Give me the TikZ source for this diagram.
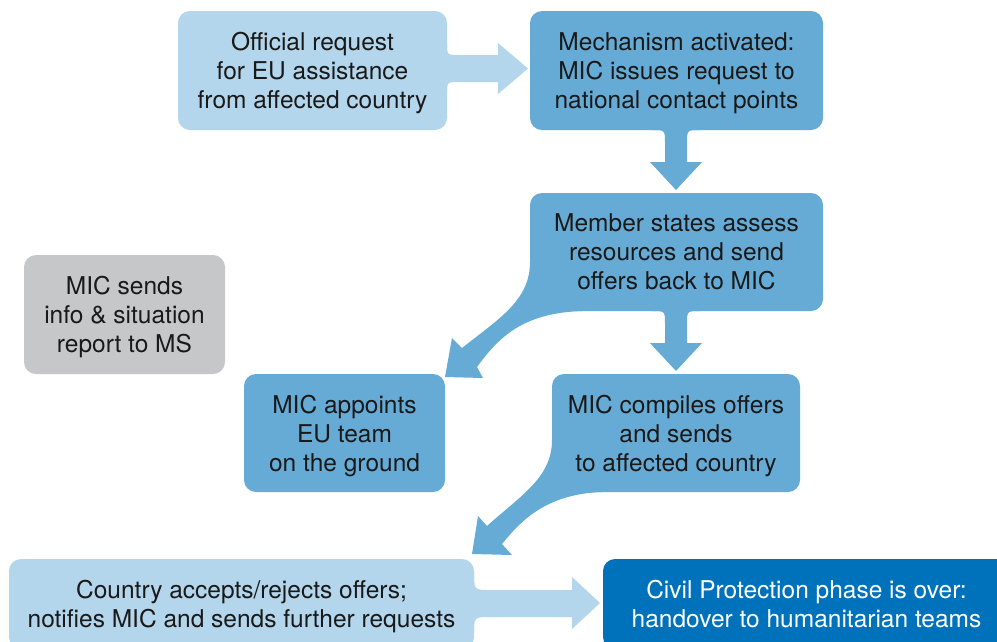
\documentclass[tikz,border=0pt]{standalone}
\usepackage{fontspec}
\setmainfont{TeX Gyre Heros}
\definecolor{lightb}{HTML}{B3D6EC}
\definecolor{midb}{HTML}{66ABD6}
\definecolor{darkb}{HTML}{0072BB}
\definecolor{greyb}{HTML}{C6C7C9}
\tikzset{
  box/.style={rounded corners=12pt, inner sep=0pt, align=center, text depth=-1pt,
    font=\fontsize{24.5pt}{29pt}\selectfont, text=black!90},
}
\begin{document}
\begin{tikzpicture}[x=1pt,y=-1pt]
\clip (0,0) rectangle (997,641);
\fill[white] (0,0) rectangle (997,641);
% arrows (drawn first, boxes on top)
% b1 -> b2
\fill[lightb] (440,43) -- (447,43) .. controls (447,55) .. (459,55) -- (498,55) -- (498,43)
  -- (528,68.5) -- (498,94) -- (498,82) -- (459,82) .. controls (447,82) .. (447,94) -- (440,94) -- cycle;
% b2 -> b3
\fill[midb] (652,125) -- (652,130) .. controls (665,130) .. (665,143) -- (665,162) -- (650,162)
  -- (676,190) -- (702,162) -- (687,162) -- (687,143) .. controls (687,130) .. (700,130) -- (700,125) -- cycle;
% b3 -> b6
\fill[midb] (652,306) -- (652,311) .. controls (665,311) .. (665,324) -- (665,343) -- (650,343)
  -- (676,371) -- (702,343) -- (687,343) -- (687,324) .. controls (687,311) .. (700,311) -- (700,306) -- cycle;
% b3 -> b5
\fill[midb] (540,250) -- (530,250) -- (530,262) .. controls (530,300) and (500,318) .. (462,348)
  -- (452,338) -- (445,377) -- (483,378) -- (477,367)
  .. controls (497,340) and (520,313) .. (582,311) -- (582,300) -- cycle;
% b6 -> b7
\fill[midb] (562,430) -- (552,430) -- (552,440) .. controls (552,478) and (520,496) .. (487,526)
  -- (478,516) -- (472,554) -- (512,555) -- (502,544)
  .. controls (520,522) and (545,494) .. (602,492) -- (602,482) -- cycle;
% b7 -> b8
\fill[lightb] (465,572) -- (474,572) .. controls (474,590) .. (490,590) -- (572,590) -- (572,577)
  -- (600,603) -- (572,629) -- (572,617) -- (490,617) .. controls (474,617) .. (474,634) -- (465,634) -- cycle;
% boxes
\node[box, fill=lightb, minimum width=269pt, minimum height=119pt] (b1) at (312.5,70.5)
  {Official request\\for EU assistance\\from affected country};
\node[box, fill=midb, minimum width=293pt, minimum height=119pt] (b2) at (676.5,70.5)
  {Mechanism activated:\\MIC issues request to\\national contact points};
\node[box, fill=midb, minimum width=293pt, minimum height=118pt] (b3) at (676.5,252)
  {Member states assess\\resources and send\\offers back to MIC};
\node[box, fill=greyb, minimum width=201pt, minimum height=119pt] (b4) at (124.5,314.5)
  {MIC sends\\info \& situation\\report to MS};
\node[box, fill=midb, minimum width=201pt, minimum height=118pt] (b5) at (344.5,433)
  {MIC appoints\\EU team\\on the ground};
\node[box, fill=midb, minimum width=248pt, minimum height=118pt] (b6) at (676,433)
  {MIC compiles offers\\and sends\\to affected country};
\node[box, fill=lightb, minimum width=465pt, minimum height=90pt] (b7) at (241.5,604)
  {Country accepts/rejects offers;\\notifies MIC and sends further requests};
\node[box, fill=darkb, text=white, minimum width=407pt, minimum height=90pt] (b8) at (806.5,604)
  {Civil Protection phase is over:\\handover to humanitarian teams};
\end{tikzpicture}
\end{document}
